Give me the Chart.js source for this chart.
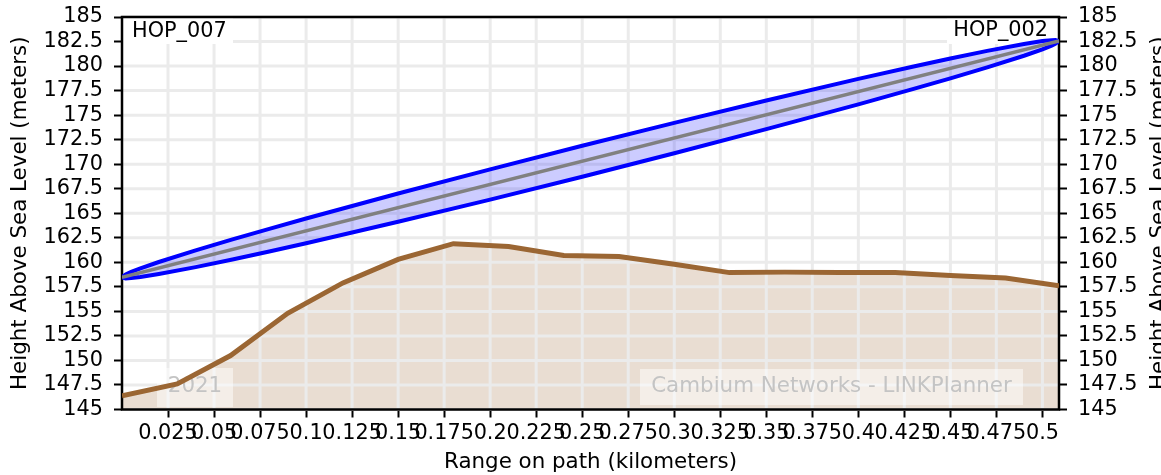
<!DOCTYPE html>
<html><head><meta charset="utf-8">
<script src="https://cdn.jsdelivr.net/npm/chart.js@4"></script>
<style>html,body{margin:0;padding:0;background:#fff;overflow:hidden}</style>
</head><body>
<canvas id="c" width="1161" height="475"></canvas>
<script>
// ---- data ----
const terrainX = [0, 0.03, 0.059, 0.09, 0.12, 0.15, 0.18, 0.21, 0.24, 0.27, 0.30, 0.33, 0.36, 0.39, 0.42, 0.45, 0.48, 0.509];
const terrainY = [146.4, 147.6, 150.5, 154.8, 157.9, 160.3, 161.9, 161.6, 160.7, 160.6, 159.8, 158.95, 159.0, 158.95, 158.95, 158.65, 158.4, 157.6];

const ellipseX = [0, 0.002, 0.005, 0.01, 0.02, 0.04, 0.06, 0.08, 0.1, 0.15, 0.2, 0.25, 0.3, 0.35, 0.4, 0.43, 0.45, 0.47, 0.49, 0.5, 0.505, 0.507, 0.509];
const ellipseUpper = [158.47, 158.76, 159.02, 159.38, 160.03, 161.21, 162.33, 163.40, 164.46, 167.01, 169.47, 171.88, 174.21, 176.49, 178.69, 179.95, 180.77, 181.55, 182.25, 182.55, 182.64, 182.66, 182.55];
const ellipseLower = [158.47, 158.36, 158.40, 158.50, 158.81, 159.51, 160.29, 161.10, 161.94, 164.13, 166.39, 168.72, 171.11, 173.57, 176.09, 177.67, 178.75, 179.87, 181.05, 181.71, 182.08, 182.26, 182.55];

const losX = [0, 0.509];
const losY = [158.47, 182.55];

const xMin = 0, xMax = 0.509;
const yMin = 145, yMax = 185;
const xTickValues = [0.025, 0.05, 0.075, 0.1, 0.125, 0.15, 0.175, 0.2, 0.225, 0.25, 0.275, 0.3, 0.325, 0.35, 0.375, 0.4, 0.425, 0.45, 0.475, 0.5];
const xTickLabels = ['0.025','0.05','0.075','0.1','0.125','0.15','0.175','0.2','0.225','0.25','0.275','0.3','0.325','0.35','0.375','0.4','0.425','0.45','0.475','0.5'];
const yTickValues = [145, 147.5, 150, 152.5, 155, 157.5, 160, 162.5, 165, 167.5, 170, 172.5, 175, 177.5, 180, 182.5, 185];
const yTickLabels = ['145','147.5','150','152.5','155','157.5','160','162.5','165','167.5','170','172.5','175','177.5','180','182.5','185'];

const siteLeft = 'HOP_007';
const siteRight = 'HOP_002';
const yTitle = 'Height Above Sea Level (meters)';
const xTitle = 'Range on path (kilometers)';
const watermarkYear = '2021';
const watermarkText = 'Cambium Networks - LINKPlanner';

// ---- chart ----
const FONT = "'DejaVu Sans'";
const FS = 20.8;
const FT = 21.4;
Chart.defaults.font.family = FONT;
Chart.defaults.font.size = FS;
Chart.defaults.color = '#000';

const toPts = (xs, ys) => xs.map((x, i) => ({x, y: ys[i]}));

const decor = {
  id: 'decor',
  beforeDatasetDraw(chart, args) {
    if (args.index !== 3) return;
    const {ctx, chartArea: a, scales} = chart;
    ctx.save();
    // grid
    ctx.strokeStyle = '#ebebeb';
    ctx.lineWidth = 3;
    ctx.beginPath();
    xTickValues.forEach(v => {
      const px = scales.x.getPixelForValue(v);
      ctx.moveTo(px, a.top); ctx.lineTo(px, a.bottom);
    });
    yTickValues.forEach(v => {
      const py = scales.y.getPixelForValue(v);
      ctx.moveTo(a.left, py); ctx.lineTo(a.right, py);
    });
    ctx.stroke();
    // site label boxes
    ctx.fillStyle = '#fff';
    ctx.fillRect(a.left, a.top, 111, 27);
    ctx.fillRect(a.right - 112, a.top, 112, 27);
    ctx.fillStyle = '#000';
    ctx.font = FS + 'px ' + FONT;
    ctx.textBaseline = 'alphabetic';
    ctx.textAlign = 'left';
    ctx.fillText(siteLeft, a.left + 10, a.top + 20);
    ctx.textAlign = 'right';
    ctx.fillText(siteRight, a.right - 11, a.top + 19);
    // watermarks
    ctx.fillStyle = 'rgba(255,255,255,0.5)';
    ctx.fillRect(a.left + 35, a.bottom - 41.5, 76, 39);
    ctx.fillRect(a.left + 518, a.bottom - 40.5, 383, 36);
    ctx.fillStyle = '#c4c4c4';
    ctx.font = FT + 'px ' + FONT;
    ctx.textAlign = 'center';
    ctx.textBaseline = 'alphabetic';
    ctx.fillText(watermarkYear, a.left + 73, a.bottom - 17.5);
    ctx.fillText(watermarkText, a.left + 709.5, a.bottom - 17.5);
    // frame
    ctx.strokeStyle = '#000';
    ctx.lineWidth = 2.5;
    ctx.strokeRect(a.left, a.top, a.right - a.left, a.bottom - a.top);
    ctx.restore();
  },
  afterDraw(chart) {
    const {ctx, chartArea: a} = chart;
    ctx.save();
    ctx.font = FT + 'px ' + FONT;
    ctx.fillStyle = '#000';
    ctx.textAlign = 'center';
    ctx.textBaseline = 'alphabetic';
    ctx.translate(1165, (a.top + a.bottom) / 2);
    ctx.rotate(-Math.PI / 2);
    ctx.fillText(yTitle, 0, 0);
    ctx.restore();
  }
};

const zeroPad = s => { s.paddingTop = 0; s.paddingBottom = 0; s.paddingLeft = 0; s.paddingRight = 0; };

const yAxisCommon = {
  type: 'linear', min: yMin, max: yMax, bounds: 'data',
  afterBuildTicks: s => { s.ticks = yTickValues.map(v => ({value: v})); },
  ticks: { autoSkip: false, padding: 11, callback: (v, i) => yTickLabels[i], font: {size: FS} },
  grid: { drawOnChartArea: false, drawTicks: true, tickLength: 8, tickColor: '#000', tickWidth: 2 },
  border: { display: false }
};

new Chart(document.getElementById('c'), {
  type: 'line',
  data: {
    datasets: [
      { data: toPts(losX, losY), borderColor: '#808080', borderWidth: 3.5, pointRadius: 0, fill: false },
      { data: toPts(ellipseX, ellipseUpper), borderColor: '#0000ff', borderWidth: 4, pointRadius: 0,
        fill: '+1', backgroundColor: 'rgba(0,0,255,0.2)' },
      { data: toPts(ellipseX, ellipseLower), borderColor: '#0000ff', borderWidth: 4, pointRadius: 0, fill: false },
      { data: toPts(terrainX, terrainY), borderColor: '#9b6633', borderWidth: 5, pointRadius: 0,
        fill: 'start', backgroundColor: 'rgba(155,102,51,0.22)' }
    ]
  },
  options: {
    responsive: false,
    animation: false,
    devicePixelRatio: 1,
    layout: { padding: { top: 17, left: 0, right: 0, bottom: 0 } },
    plugins: {
      legend: { display: false },
      tooltip: { enabled: false },
      filler: { drawTime: 'beforeDatasetDraw' }
    },
    scales: {
      x: {
        type: 'linear', min: xMin, max: xMax, bounds: 'data',
        afterBuildTicks: s => { s.ticks = xTickValues.map(v => ({value: v})); },
        afterFit: s => { s.height = 65.5; zeroPad(s); },
        ticks: { autoSkip: false, maxRotation: 0, minRotation: 0, padding: 4, callback: (v, i) => xTickLabels[i] },
        grid: { drawOnChartArea: false, drawTicks: true, tickLength: 8, tickColor: '#000', tickWidth: 2 },
        border: { display: false },
        title: { display: true, text: xTitle, padding: {top: 0, bottom: 0}, font: {size: FT} }
      },
      y: Object.assign({}, yAxisCommon, {
        position: 'left',
        afterFit: s => { s.width = 122; zeroPad(s); },
        title: { display: true, text: yTitle, padding: {top: 8, bottom: 0}, font: {size: FT} }
      }),
      y2: Object.assign({}, yAxisCommon, {
        position: 'right',
        afterFit: s => { s.width = 102; zeroPad(s); },
        title: { display: false }
      })
    }
  },
  plugins: [decor]
});
</script>
</body></html>
